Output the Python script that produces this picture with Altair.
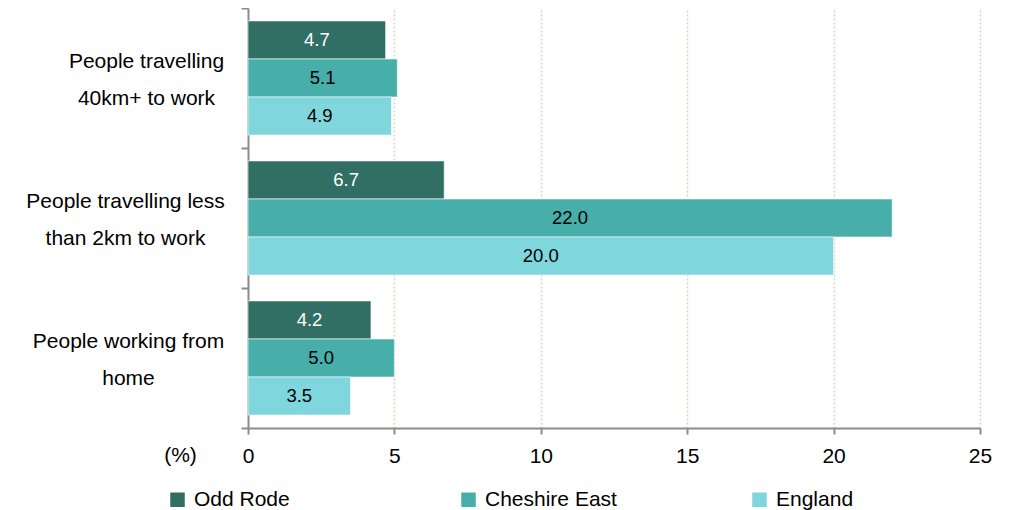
import altair as alt
import pandas as pd

categories = [
    "People travelling\n40km+ to work",
    "People travelling less\nthan 2km to work",
    "People working from\nhome",
]
series = ["Odd Rode", "Cheshire East", "England"]
odd_rode = [4.7, 6.7, 4.2]
cheshire_east = [5.1, 22.0, 5.0]
england = [4.9, 20.0, 3.5]
colors = ["#316E63", "#47AEAA", "#7FD6DD"]
x_ticks = [0, 5, 10, 15, 20, 25]

rows = []
for s, vals in zip(series, [odd_rode, cheshire_east, england]):
    for c, v in zip(categories, vals):
        rows.append({"category": c, "series": s, "value": v})
df = pd.DataFrame(rows)

FONT = "Liberation Sans"

y_enc = alt.Y(
    "category:N",
    sort=categories,
    scale=alt.Scale(paddingInner=0, paddingOuter=0),
    axis=alt.Axis(
        title=None,
        labelExpr="split(datum.label, '\\n')",
        labelAlign="center",
        labelBaseline="middle",
        labelLineHeight=37,
        labelFontSize=21,
        labelFont=FONT,
        labelColor="#000000",
        labelLimit=400,
        labelOffset=-17,
        labelPadding={
            "condition": [
                {"test": "indexof(datum.label, '40km') >= 0", "value": 95},
                {"test": "indexof(datum.label, 'less') >= 0", "value": 116},
            ],
            "value": 113,
        },
        tickBand="extent",
        tickSize=7,
        tickWidth=2,
        tickColor="#8C8C8C",
        domainColor="#8C8C8C",
        domainWidth=2,
        grid=False,
    ),
)
yoff = alt.YOffset(
    "series:N", sort=series, scale=alt.Scale(paddingInner=0, paddingOuter=0.34)
)

x_enc = alt.X(
    "value:Q",
    scale=alt.Scale(domain=[0, 25], nice=False),
    axis=alt.Axis(
        values=x_ticks,
        title="(%)",
        titleX=-68,
        titleY=33,
        titleAlign="center",
        titleBaseline="alphabetic",
        titleFontSize=21,
        titleFontWeight="normal",
        titleFont=FONT,
        titleColor="#000000",
        labelFontSize=21,
        labelFont=FONT,
        labelColor="#000000",
        labelPadding=11,
        labelFlush=False,
        tickSize=6,
        tickWidth=2,
        tickColor="#8C8C8C",
        domainColor="#8C8C8C",
        domainWidth=2,
        grid=True,
        gridColor="#D9D2BC",
        gridDash=[2, 2],
        gridWidth=1.5,
    ),
)

base = alt.Chart(df)

bars = base.mark_bar(stroke="#FFFFFF", strokeWidth=0.6).encode(
    y=y_enc,
    yOffset=yoff,
    x=x_enc,
    color=alt.Color(
        "series:N",
        sort=series,
        scale=alt.Scale(domain=series, range=colors),
        legend=alt.Legend(
            title=None,
            orient="none",
            direction="horizontal",
            columns=3,
            columnPadding=132,
            gridAlign="all",
            legendX=-81,
            legendY=481,
            symbolType="square",
            symbolSize=210,
            symbolStrokeWidth=0,
            labelFontSize=21,
            labelFont=FONT,
            labelColor="#000000",
            labelOffset=6,
            padding=0,
        ),
    ),
)

labels = base.transform_calculate(mid="datum.value / 2").mark_text(
    fontSize=18.5, font=FONT, baseline="middle", align="center"
).encode(
    y=alt.Y("category:N", sort=categories),
    yOffset=yoff,
    x=alt.X("mid:Q"),
    text=alt.Text("value:Q", format=".1f"),
    color=alt.condition(
        "datum.series == 'Odd Rode'", alt.value("#FFFFFF"), alt.value("#000000")
    ),
)

chart = (
    alt.layer(bars, labels)
    .properties(
        width=732,
        height=420,
        autosize=alt.AutoSizeParams(type="none"),
        padding={"left": 240, "top": 0, "right": 12, "bottom": 82},
    )
    .configure_view(stroke=None)
)

chart.save("out.html", embed_options={"renderer": "svg", "actions": False})
